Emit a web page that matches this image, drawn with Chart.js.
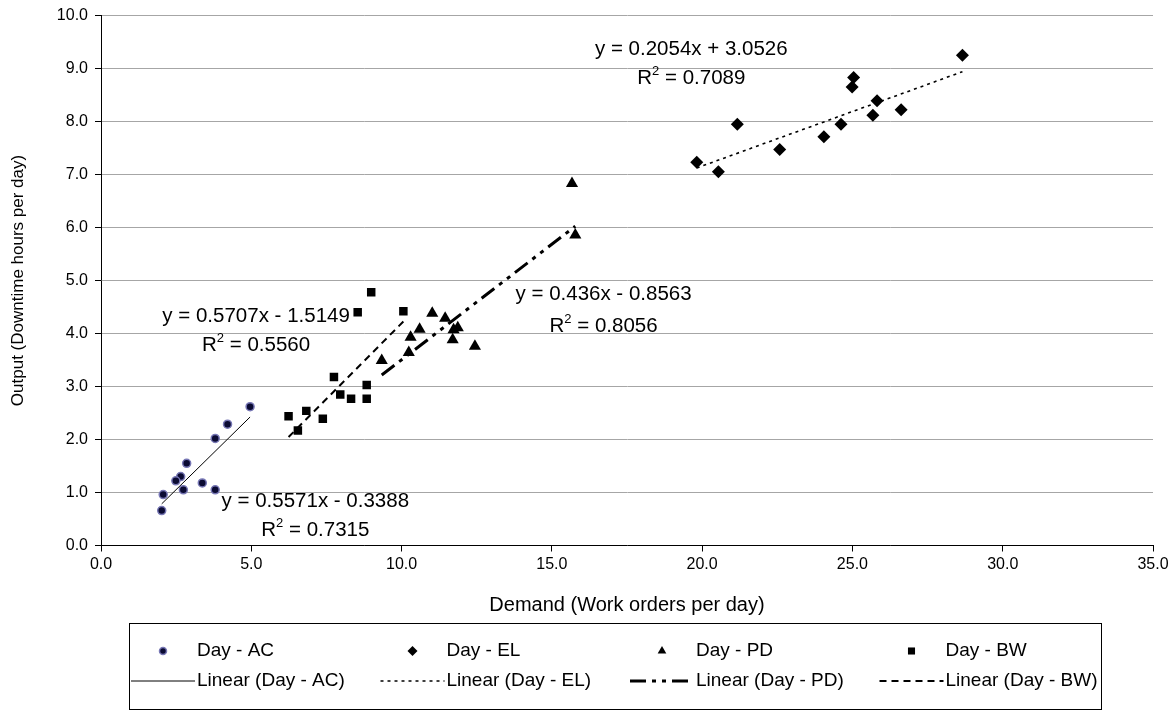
<!DOCTYPE html>
<html>
<head>
<meta charset="utf-8">
<script src="https://cdn.jsdelivr.net/npm/chart.js@4.4.1/dist/chart.umd.min.js"></script>
<style>
html, body { margin: 0; padding: 0; background: #fff; }
#wrap { position: absolute; left: 0; top: 0; width: 1168px; height: 713px; }
</style>
</head>
<body>
<div id="wrap"><canvas id="myChart" width="1168" height="713"></canvas></div>
<script>
// series names
var seriesNames = ['Day - AC', 'Day - EL', 'Day - PD', 'Day - BW'];

// Day - AC
var acX = [4.96, 4.21, 3.80, 2.85, 2.65, 2.49, 2.07, 2.74, 3.37, 3.80, 2.02];
var acY = [2.62, 2.29, 2.02, 1.55, 1.30, 1.22, 0.96, 1.05, 1.18, 1.05, 0.66];
// Day - EL
var elX = [19.82, 20.54, 21.17, 22.58, 24.05, 24.62, 25.04, 24.99, 25.82, 25.68, 26.62, 28.66];
var elY = [7.23, 7.05, 7.95, 7.47, 7.71, 7.95, 8.83, 8.65, 8.39, 8.12, 8.22, 9.25];
// Day - PD
var pdX = [15.67, 15.78, 11.02, 11.45, 10.60, 10.30, 11.87, 11.73, 11.70, 12.44, 10.24, 9.34];
var pdY = [6.83, 5.86, 4.38, 4.29, 4.08, 3.93, 4.11, 4.07, 3.88, 3.76, 3.64, 3.49];
// Day - BW
var bwX = [8.54, 10.06, 8.99, 7.75, 7.96, 8.32, 8.84, 8.84, 6.24, 6.83, 7.38, 6.55];
var bwY = [4.40, 4.42, 4.78, 3.18, 2.85, 2.77, 3.03, 2.77, 2.44, 2.54, 2.39, 2.17];

// linear trend lines (as printed on the chart)
var slopes = [0.5571, 0.2054, 0.436, 0.5707];
var intercepts = [-0.3388, 3.0526, -0.8563, -1.5149];
var r2Values = [0.7315, 0.7089, 0.8056, 0.5560];

// axis ticks
var xTicks = [0, 5, 10, 15, 20, 25, 30, 35];
var yTicks = [0, 1, 2, 3, 4, 5, 6, 7, 8, 9, 10];

var allX = [acX, elX, pdX, bwX];
var allY = [acY, elY, pdY, bwY];

// where the equation labels sit (data units)
var labelPos = [
    {x: 7.13, y: 0.83, y2: 0.29},
    {x: 19.64, y: 9.36, y2: 8.82},
    {x: 16.72, y: 4.73, y2: 4.13},
    {x: 5.16, y: 4.32, y2: 3.78}
];

var FONT = '"Liberation Sans", Arial, sans-serif';

function toPoints(xs, ys) {
    var pts = [];
    for (var i = 0; i < xs.length; i++) {
        pts.push({x: xs[i], y: ys[i]});
    }
    return pts;
}

function trendPoints(k) {
    var xs = allX[k];
    var lo = Math.min.apply(null, xs), hi = Math.max.apply(null, xs);
    return [{x: lo, y: slopes[k] * lo + intercepts[k]}, {x: hi, y: slopes[k] * hi + intercepts[k]}];
}

var markerStyle = [
    {pointStyle: 'circle', radius: 4, bg: '#0b0b33', border: '#7777b5', bw: 1.5, legendR: 3.5},
    {pointStyle: 'rectRot', radius: 6.5, bg: '#000', border: '#000', bw: 0, legendR: 5},
    {pointStyle: 'triangle', radius: 7, bg: '#000', border: '#000', bw: 0, legendR: 5},
    {pointStyle: 'rect', radius: 6, bg: '#000', border: '#000', bw: 0, legendR: 5}
];
var lineStyle = [
    {width: 1, dash: []},
    {width: 1.6, dash: [3, 4]},
    {width: 3, dash: [16, 6, 4, 6, 4, 6]},
    {width: 2, dash: [7, 5]}
];

var datasets = [];
for (var i = 0; i < 4; i++) {
    var m = markerStyle[i];
    datasets.push({
        label: seriesNames[i],
        data: toPoints(allX[i], allY[i]),
        pointStyle: m.pointStyle,
        pointRadius: m.radius,
        pointHoverRadius: m.radius,
        backgroundColor: m.bg,
        borderColor: m.border,
        borderWidth: m.bw,
        showLine: false,
        order: 1
    });
}
for (var j = 0; j < 4; j++) {
    datasets.push({
        label: 'Linear (' + seriesNames[j] + ')',
        data: trendPoints(j),
        showLine: true,
        pointRadius: 0,
        borderColor: '#000',
        borderWidth: lineStyle[j].width,
        borderDash: lineStyle[j].dash,
        fill: false,
        order: 2
    });
}

function eqText(k) {
    var b = intercepts[k];
    return 'y = ' + slopes[k] + 'x ' + (b < 0 ? '- ' : '+ ') + Math.abs(b).toFixed(4);
}

var trendText = {
    id: 'trendText',
    afterDatasetsDraw: function (chart) {
        var ctx = chart.ctx, xs = chart.scales.x, ys = chart.scales.y;
        ctx.save();
        ctx.fillStyle = '#000';
        ctx.textBaseline = 'middle';
        for (var k = 0; k < labelPos.length; k++) {
            var p = labelPos[k];
            var px = xs.getPixelForValue(p.x);
            ctx.font = '20.5px ' + FONT;
            ctx.textAlign = 'center';
            ctx.fillText(eqText(k), px, ys.getPixelForValue(p.y));
            // R^2 line
            var py2 = ys.getPixelForValue(p.y2);
            var tail = ' = ' + r2Values[k].toFixed(4);
            var wa = ctx.measureText('R').width, wb = ctx.measureText(tail).width;
            ctx.font = '13px ' + FONT;
            var ws = ctx.measureText('2').width;
            var sx = px - (wa + ws + wb) / 2;
            ctx.textAlign = 'left';
            ctx.font = '20.5px ' + FONT;
            ctx.fillText('R', sx, py2);
            ctx.font = '13px ' + FONT;
            ctx.fillText('2', sx + wa, py2 - 7);
            ctx.font = '20.5px ' + FONT;
            ctx.fillText(tail, sx + wa + ws, py2);
        }
        ctx.restore();
    }
};

var boxLegend = {
    id: 'boxLegend',
    afterDraw: function (chart) {
        var ctx = chart.ctx;
        var row1 = 651, row2 = 681;
        ctx.save();
        ctx.strokeStyle = '#000';
        ctx.lineWidth = 1;
        ctx.strokeRect(129.5, 623.5, 972, 86);
        ctx.font = '19px ' + FONT;
        ctx.textBaseline = 'middle';
        ctx.textAlign = 'left';
        for (var i = 0; i < 4; i++) {
            var tx = 197 + i * 249.5;
            var ds = chart.data.datasets[i];
            var m = markerStyle[i];
            ctx.fillStyle = m.bg;
            ctx.strokeStyle = m.border;
            ctx.lineWidth = m.bw;
            Chart.helpers.drawPoint(ctx, {pointStyle: m.pointStyle, radius: m.legendR, rotation: 0, borderWidth: m.bw}, tx - 34, row1);
            ctx.fillStyle = '#000';
            ctx.fillText(ds.label, tx, row1);
            var ls = lineStyle[i];
            ctx.strokeStyle = '#000';
            ctx.lineWidth = ls.width;
            ctx.setLineDash(ls.dash);
            ctx.beginPath();
            ctx.moveTo(tx - 66, row2);
            ctx.lineTo(tx - 2, row2);
            ctx.stroke();
            ctx.setLineDash([]);
            ctx.fillText(chart.data.datasets[i + 4].label, tx, row2);
        }
        ctx.restore();
    }
};

var ctx = document.getElementById('myChart').getContext('2d');
var myChart = new Chart(ctx, {
    type: 'scatter',
    data: {datasets: datasets},
    plugins: [trendText, boxLegend],
    options: {
        responsive: false,
        animation: false,
        devicePixelRatio: 1,
        layout: {padding: {left: 0, top: 15.5, right: 15, bottom: 82.5}},
        plugins: {legend: {display: false}, tooltip: {enabled: false}},
        scales: {
            x: {
                type: 'linear',
                min: 0,
                max: 35,
                afterBuildTicks: function (s) { s.ticks = xTicks.map(function (v) { return {value: v}; }); },
                afterFit: function (s) { s.height = 85; s.paddingLeft = 0; s.paddingRight = 0; },
                ticks: {
                    color: '#000',
                    font: {size: 16, family: FONT},
                    padding: 3,
                    maxRotation: 0,
                    callback: function (v) { return Number(v).toFixed(1); }
                },
                grid: {drawOnChartArea: false, drawTicks: true, tickLength: 6, tickColor: '#000'},
                border: {color: '#000', width: 1},
                title: {display: true, text: 'Demand (Work orders per day)', color: '#000',
                    font: {size: 20, family: FONT}, padding: {top: 4, bottom: 13}}
            },
            y: {
                type: 'linear',
                min: 0,
                max: 10,
                afterBuildTicks: function (s) { s.ticks = yTicks.map(function (v) { return {value: v}; }); },
                afterFit: function (s) { s.width = 101; s.paddingTop = 0; s.paddingBottom = 0; },
                ticks: {
                    color: '#000',
                    font: {size: 16, family: FONT},
                    padding: 7,
                    callback: function (v) { return Number(v).toFixed(1); }
                },
                grid: {color: '#a6a6a6', lineWidth: 1, drawTicks: true, tickLength: 6, tickColor: '#000'},
                border: {color: '#000', width: 1},
                title: {display: true, text: 'Output (Downtime hours per day)', color: '#000',
                    font: {size: 17, family: FONT}, padding: {top: 8, bottom: 0}}
            }
        }
    }
});
</script>
</body>
</html>
